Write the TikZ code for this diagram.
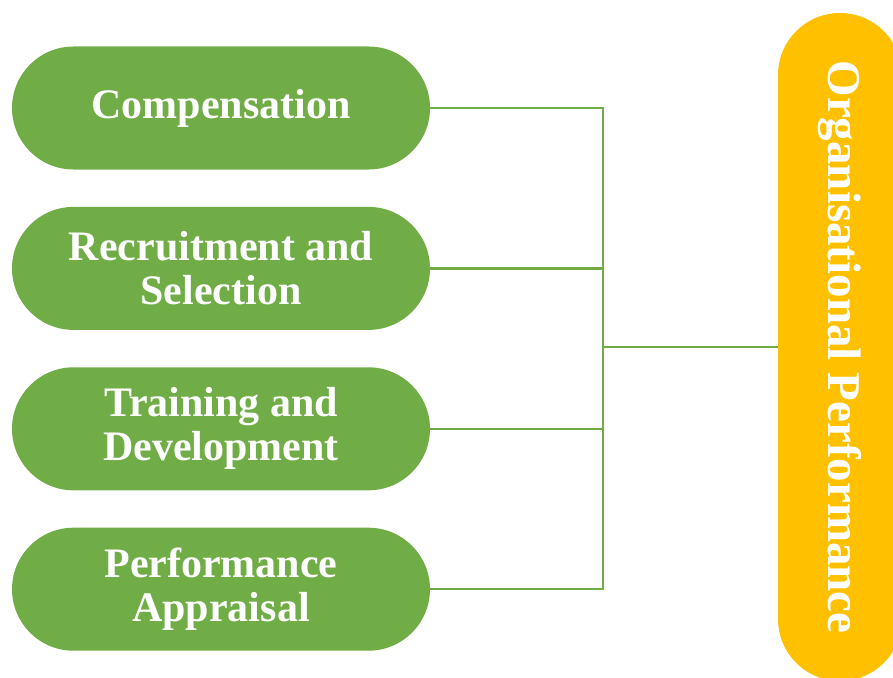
\documentclass[tikz,border=0pt]{standalone}
\usepackage{fontspec}
\setmainfont{Liberation Serif}
\usepackage{xcolor}
\usepackage{tikz}
\usetikzlibrary{positioning, calc}
\definecolor{hrgreen}{HTML}{70AD47}
\definecolor{perfgold}{HTML}{FFC000}

\begin{document}
\begin{tikzpicture}[
    x = 1pt, y = -1pt, align = center,
    practice/.style = {
      rectangle, fill = hrgreen, draw = none, rounded corners = 61.5pt,
      minimum width = 418pt, minimum height = 123pt, inner sep = 0pt,
      text = white, font = \fontsize{42}{44}\selectfont\bfseries
    },
    outcome/.style = {
      rectangle, fill = perfgold, draw = none, rounded corners = 62pt,
      minimum width = 668pt, minimum height = 124pt, inner sep = 0pt,
      text = white, font = \fontsize{47}{50}\selectfont\bfseries
    },
    link/.style = {
      draw = hrgreen, line width = 2.5pt
    },
    ]

    \useasboundingbox (0,0) rectangle (893,677);

    % HR practices on the left
    \node  [practice]  (hr1)  at (221,108)  {Compensation};
    \node  [practice]  (hr2)  [below = 37pt of hr1]  {Recruitment and\\Selection};
    \node  [practice]  (hr3)  [below = 37pt of hr2]  {Training and\\Development};
    \node  [practice]  (hr4)  [below = 37pt of hr3]  {Performance\\Appraisal};

    % outcome on the right
    \node  [outcome, rotate = -90]  (perf)  at (840,347)  {Organisational Performance};

    % draw bracket
    \coordinate  (join)  at (603,347);
    \foreach \i in {1, ..., 4}
    \draw  [link]  (hr\i.east)  -|  (join);

    \draw  [link]  (join)  --  (perf);

\end{tikzpicture}
\end{document}
